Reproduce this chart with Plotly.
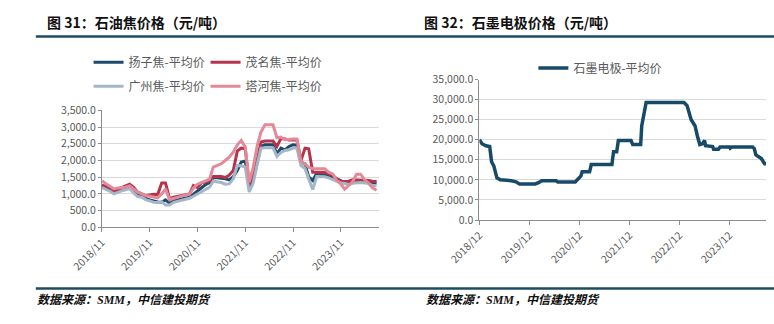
import pandas as pd
import plotly.graph_objects as go

# ---- Petroleum coke monthly average prices (yuan/ton) ----
coke_months = pd.date_range("2018-11-01", periods=70, freq="MS")

yangzi = [1240, 1190, 1150, 1050, 1090, 1130, 1170, 1220, 1080, 960,
          950, 870, 820, 780, 760, 750, 820, 720, 790, 820,
          850, 880, 900, 990, 1090, 1200, 1280, 1340, 1480, 1480,
          1470, 1450, 1420, 1520, 1700, 1950, 1980, 1220, 1470, 1990,
          2420, 2470, 2470, 2470, 2200, 2370, 2320, 2420, 2470, 2460,
          1950, 1900, 1510, 1400, 1610, 1600, 1570, 1540, 1500, 1450,
          1400, 1330, 1330, 1340, 1370, 1370, 1350, 1340, 1320, 1320]

maoming = [1260, 1240, 1200, 1080, 1140, 1190, 1240, 1290, 1200, 1050,
           1000, 950, 970, 990, 980, 1330, 1330, 850, 900, 920,
           950, 970, 1000, 1250, 1190, 1330, 1360, 1390, 1520, 1520,
           1520, 1490, 1560, 1700, 2280, 2370, 2350, 1270, 1510, 2040,
           2550, 2580, 2580, 2580, 2420, 2660, 2640, 2610, 2610, 2610,
           2000, 2370, 2350, 1650, 1650, 1650, 1640, 1610, 1560, 1450,
           1380, 1370, 1380, 1420, 1420, 1420, 1410, 1400, 1380, 1370]

guangzhou = [1190, 1140, 1080, 1000, 1050, 1090, 1120, 1160, 1030, 920,
             900, 830, 790, 750, 740, 760, 670, 670, 750, 780,
             820, 850, 870, 930, 1000, 1060, 1150, 1200, 1380, 1370,
             1340, 1290, 1300, 1450, 1850, 1840, 1800, 1060, 1330, 1900,
             2370, 2380, 2380, 2380, 2120, 2240, 2300, 2320, 2370, 2370,
             1850, 1760, 1450, 1130, 1520, 1520, 1510, 1480, 1430, 1380,
             1330, 1310, 1280, 1320, 1340, 1340, 1330, 1310, 1250, 1250]

tahe = [1400, 1300, 1230, 1150, 1180, 1190, 1200, 1240, 1160, 1050,
        1000, 950, 930, 910, 880, 1000, 1150, 830, 870, 900,
        940, 970, 990, 1180, 1290, 1340, 1400, 1440, 1800, 1860,
        1900, 2000, 2100, 2250, 2470, 2600, 2400, 1350, 1800, 2450,
        2850, 3070, 3070, 3070, 2680, 2700, 2620, 2640, 2640, 2640,
        1980, 1890, 1800, 1750, 1750, 1750, 1750, 1650, 1600, 1400,
        1300, 1140, 1270, 1370, 1590, 1590, 1430, 1320, 1180, 1110]

coke_ticks = ["2018-11-01", "2019-11-01", "2020-11-01",
              "2021-11-01", "2022-11-01", "2023-11-01"]
coke_ticktext = ["2018/11", "2019/11", "2020/11", "2021/11", "2022/11", "2023/11"]

# ---- Graphite electrode average price (yuan/ton) ----
electrode_dates = [
    "2018-12-01", "2018-12-20", "2019-01-17", "2019-02-14", "2019-02-28",
    "2019-03-16", "2019-04-08", "2019-05-02", "2019-07-22", "2019-08-26",
    "2019-09-19", "2020-01-13", "2020-02-06", "2020-02-29", "2020-06-13",
    "2020-06-25", "2020-10-31", "2020-11-23", "2020-12-12", "2020-12-21",
    "2021-02-13", "2021-02-25", "2021-07-26", "2021-08-07", "2021-08-30",
    "2021-09-11", "2021-12-13", "2021-12-25", "2022-02-21", "2022-03-01",
    "2022-03-17", "2022-04-02", "2023-01-03", "2023-01-26", "2023-02-25",
    "2023-03-14", "2023-03-25", "2023-04-11", "2023-04-29", "2023-05-18",
    "2023-06-03", "2023-06-10", "2023-08-01", "2023-08-08", "2023-09-12",
    "2023-09-24", "2023-12-03", "2023-12-08", "2023-12-20", "2024-05-19",
    "2024-05-31", "2024-06-12", "2024-07-06", "2024-07-22", "2024-08-05",
    "2024-08-15", "2024-08-25",
]
electrode_price = [
    20000, 19000, 18500, 18300, 14500,
    13500, 10500, 10000, 9800, 9500,
    9000, 9000, 9300, 9800, 9800,
    9500, 9500, 10300, 11000, 12000,
    12000, 13800, 13800, 17000, 17000,
    19800, 19800, 18800, 18800, 23500,
    26500, 29300, 29300, 28500, 25000,
    24000, 23500, 21000, 18800, 19000,
    19800, 18500, 18300, 17600, 17600,
    18200, 18200, 17900, 18200, 18200,
    17800, 16200, 15500, 15300, 14500,
    14000, 14000,
]

elec_ticks = ["2018-12-01", "2019-12-01", "2020-12-01",
              "2021-12-01", "2022-12-01", "2023-12-01"]
elec_ticktext = ["2018/12", "2019/12", "2020/12", "2021/12", "2022/12", "2023/12"]

W, H = 774, 324
CJK = "Noto Sans CJK SC, Noto Sans, sans-serif"
GRAY = "#595959"
RULE = "#1F4A64"


def px_x(v):
    return v / W


def px_y(v):
    return 1 - v / H


fig = go.Figure()

coke_series = [
    ("扬子焦-平均价", yangzi, "#1D4B6B", "legend"),
    ("茂名焦-平均价", maoming, "#B5344C", "legend"),
    ("广州焦-平均价", guangzhou, "#A3B7C8", "legend3"),
    ("塔河焦-平均价", tahe, "#E38A99", "legend3"),
]
for name, vals, color, lg in coke_series:
    fig.add_trace(go.Scatter(
        x=coke_months, y=vals, name=name, mode="lines",
        line=dict(color=color, width=3), xaxis="x", yaxis="y", legend=lg,
    ))

fig.add_trace(go.Scatter(
    x=pd.to_datetime(electrode_dates), y=electrode_price, name="石墨电极-平均价",
    mode="lines", line=dict(color="#174A68", width=3.5),
    xaxis="x2", yaxis="y2", legend="legend2",
))

axis_font = dict(family=CJK, size=10.5, color=GRAY)
common_x = dict(
    type="date", showgrid=False, showline=True, linecolor="#8C8C8C", linewidth=1,
    ticks="outside", ticklen=4, tickcolor="#8C8C8C", tickangle=-45,
    tickfont=axis_font, zeroline=False,
)
common_y = dict(
    showgrid=True, gridcolor="#D9D9D9", gridwidth=1, showline=True,
    linecolor="#8C8C8C", linewidth=1, ticks="outside", ticklen=3,
    tickcolor="#8C8C8C", tickfont=axis_font, tickformat=",.1f", zeroline=False,
)

legend_font = dict(family=CJK, size=12, color=GRAY)
fig.update_layout(
    width=W, height=H, margin=dict(l=0, r=0, t=0, b=0),
    paper_bgcolor="white", plot_bgcolor="white",
    font=dict(family=CJK, color=GRAY),
    xaxis=dict(common_x, domain=[px_x(73), px_x(362)], anchor="y",
               range=["2018-11-01", "2024-08-20"],
               tickvals=coke_ticks, ticktext=coke_ticktext),
    yaxis=dict(common_y, domain=[px_y(230), px_y(107.3)], anchor="x",
               range=[0, 3500], dtick=500),
    xaxis2=dict(common_x, domain=[px_x(466.7), px_x(765.7)], anchor="y2",
                range=["2018-12-01", "2024-08-25"],
                tickvals=elec_ticks, ticktext=elec_ticktext),
    yaxis2=dict(common_y, domain=[px_y(222.3), px_y(75)], anchor="x2",
                range=[0, 35000], dtick=5000),
    showlegend=True,
    legend=dict(orientation="h", x=px_x(59), y=px_y(57), xanchor="left",
                yanchor="middle", entrywidth=72, font=legend_font,
                bgcolor="rgba(0,0,0,0)", itemclick=False),
    legend3=dict(orientation="h", x=px_x(59), y=px_y(82), xanchor="left",
                 yanchor="middle", entrywidth=72, font=legend_font,
                 bgcolor="rgba(0,0,0,0)", itemclick=False),
    legend2=dict(orientation="h", x=px_x(523), y=px_y(63), xanchor="left",
                 yanchor="middle", font=legend_font,
                 bgcolor="rgba(0,0,0,0)", itemclick=False),
)

# Header and footer rules
fig.add_shape(type="line", xref="paper", yref="paper",
              x0=px_x(4), x1=1, y0=px_y(30), y1=px_y(30),
              line=dict(color=RULE, width=2.5))
fig.add_shape(type="line", xref="paper", yref="paper",
              x0=px_x(4), x1=1, y0=px_y(294), y1=px_y(294),
              line=dict(color=RULE, width=2.5))

title_font = dict(family=CJK, size=14, color="#111111")
fig.add_annotation(text="<b>图 31：石油焦价格（元/吨）</b>", xref="paper", yref="paper",
                   x=px_x(14), y=px_y(15), xanchor="left", yanchor="middle",
                   showarrow=False, font=title_font)
fig.add_annotation(text="<b>图 32：石墨电极价格（元/吨）</b>", xref="paper", yref="paper",
                   x=px_x(407), y=px_y(15), xanchor="left", yanchor="middle",
                   showarrow=False, font=title_font)

src_font = dict(family="Liberation Serif, " + CJK, size=12, color="#111111")
for xpos in (3, 409):
    fig.add_annotation(text="<b><i>数据来源：SMM，中信建投期货</i></b>", xref="paper", yref="paper",
                       x=px_x(xpos), y=px_y(306), xanchor="left", yanchor="middle",
                       showarrow=False, font=src_font)

fig.write_html("out.html")
